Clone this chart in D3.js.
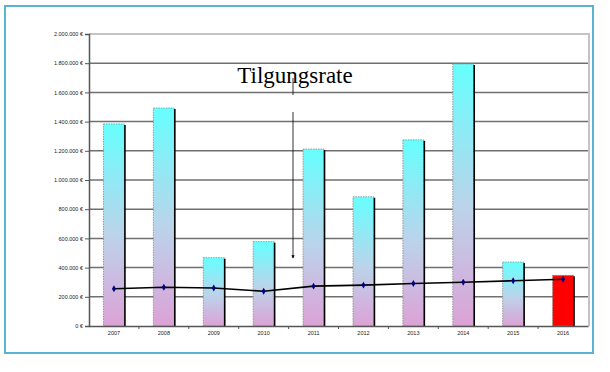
<!DOCTYPE html>
<html>
<head>
<meta charset="utf-8">
<script src="https://cdn.jsdelivr.net/npm/d3@7"></script>
<style>
  body { margin: 0; background: #fff; }
  svg { display: block; }
</style>
</head>
<body>
<div id="chart"></div>
<script>
  var years = ['2007', '2008', '2009', '2010', '2011', '2012', '2013', '2014', '2015', '2016'];
  var amounts = [1384000, 1493000, 468000, 578000, 1212000, 885000, 1275000, 1795000, 438000, 347000];
  var rates = [255000, 265000, 260000, 238000, 273000, 280000, 291000, 300000, 310000, 320000];
  var yTicks = [0, 200000, 400000, 600000, 800000, 1000000, 1200000, 1400000, 1600000, 1800000, 2000000];
  var title = 'Tilgungsrate';

  var width = 610, height = 372;

  var svg = d3.select('#chart').append('svg')
      .attr('width', width)
      .attr('height', height);

  // outer frame
  svg.append('rect')
      .attr('x', 5).attr('y', 6)
      .attr('width', 588).attr('height', 347)
      .attr('fill', '#fff')
      .attr('stroke', '#5ab4d0')
      .attr('stroke-width', 2);

  var x = d3.scaleBand()
      .domain(years)
      .range([89, 588])
      .paddingInner(0.58)
      .paddingOuter(0.29);

  var y = d3.scaleLinear()
      .domain([0, 2000000])
      .range([326, 34]);

  var fmt = (v) => d3.format(',')(v).replace(/,/g, '.') + ' €';

  var defs = svg.append('defs');
  var grad = defs.append('linearGradient')
      .attr('id', 'barfill')
      .attr('x1', 0).attr('y1', 0).attr('x2', 0).attr('y2', 1);
  grad.append('stop').attr('offset', '0%').attr('stop-color', '#66ffff');
  grad.append('stop').attr('offset', '55%').attr('stop-color', '#bcd3ea');
  grad.append('stop').attr('offset', '100%').attr('stop-color', '#dca2d6');

  // plot area border (top / right)
  svg.append('path')
      .attr('d', `M89,${ y(2000000) } H589 V326`)
      .attr('fill', 'none')
      .attr('stroke', '#c4c4c4')
      .attr('stroke-width', 2);

  // grid lines
  svg.append('g')
      .selectAll('line')
      .data(yTicks.filter((t) => t > 0 && t < 2000000))
      .enter().append('line')
      .attr('x1', 89).attr('x2', 588)
      .attr('y1', (d) => y(d)).attr('y2', (d) => y(d))
      .attr('stroke', '#707070')
      .attr('stroke-width', 1.5);

  // y axis
  var yAxis = svg.append('g')
      .attr('transform', 'translate(89,0)')
      .call(d3.axisLeft(y).tickValues(yTicks).tickFormat(fmt).tickSize(4).tickPadding(2));
  yAxis.select('.domain').attr('stroke', '#555').attr('stroke-width', 1.5);
  yAxis.selectAll('.tick line').attr('stroke', '#555');
  yAxis.selectAll('text')
      .attr('font-family', 'Liberation Sans, Arial, sans-serif')
      .attr('font-size', 5.5)
      .attr('fill', '#222');

  // bars
  var bars = svg.append('g');

  bars.selectAll('rect.bar')
      .data(amounts)
      .enter().append('rect')
      .attr('class', 'bar')
      .attr('x', (d, i) => x(years[i]))
      .attr('y', (d) => y(d))
      .attr('width', x.bandwidth())
      .attr('height', (d) => y(0) - y(d))
      .attr('fill', (d, i) => i === years.length - 1 ? '#ff0000' : 'url(#barfill)')
      .attr('stroke', '#888')
      .attr('stroke-width', 0.8)
      .attr('stroke-dasharray', '1.5,1');

  // right shadow edge
  bars.selectAll('line.edge')
      .data(amounts)
      .enter().append('line')
      .attr('class', 'edge')
      .attr('x1', (d, i) => x(years[i]) + x.bandwidth() + 0.5)
      .attr('x2', (d, i) => x(years[i]) + x.bandwidth() + 0.5)
      .attr('y1', (d) => y(d) + 1)
      .attr('y2', y(0))
      .attr('stroke', '#000')
      .attr('stroke-width', 1.6);

  // x axis
  var xAxis = svg.append('g')
      .attr('transform', `translate(0,${ y(0) })`)
      .call(d3.axisBottom(x).tickSize(0).tickPadding(5));
  xAxis.select('.domain').attr('stroke', '#555').attr('stroke-width', 1.5);
  xAxis.selectAll('text')
      .attr('font-family', 'Liberation Sans, Arial, sans-serif')
      .attr('font-size', 5.5)
      .attr('fill', '#222');

  xAxis.selectAll('line.sep')
      .data(years.slice(1))
      .enter().append('line')
      .attr('class', 'sep')
      .attr('x1', (d) => x(d) - x.step() * x.paddingInner() / 2)
      .attr('x2', (d) => x(d) - x.step() * x.paddingInner() / 2)
      .attr('y1', 0).attr('y2', 3)
      .attr('stroke', '#555');

  // rate line
  var line = d3.line()
      .x((d, i) => x(years[i]) + x.bandwidth() / 2)
      .y((d) => y(d));

  svg.append('path')
      .datum(rates)
      .attr('d', line)
      .attr('fill', 'none')
      .attr('stroke', '#000')
      .attr('stroke-width', 1.6);

  svg.append('g')
      .selectAll('path')
      .data(rates)
      .enter().append('path')
      .attr('d', d3.symbol().type(d3.symbolDiamond).size(14))
      .attr('transform', (d, i) => `translate(${ x(years[i]) + x.bandwidth() / 2 },${ y(d) })`)
      .attr('fill', '#000080');

  // title with arrow
  svg.append('text')
      .attr('x', 295)
      .attr('y', 83)
      .attr('text-anchor', 'middle')
      .attr('font-family', 'Liberation Serif, Times New Roman, serif')
      .attr('font-size', 23)
      .attr('fill', '#000')
      .text(title);

  defs.append('marker')
      .attr('id', 'arrow')
      .attr('viewBox', '0 0 6 6')
      .attr('refX', 5).attr('refY', 3)
      .attr('markerWidth', 4).attr('markerHeight', 4)
      .attr('orient', 'auto')
      .append('path')
      .attr('d', 'M0,0 L6,3 L0,6 Z')
      .attr('fill', '#000');

  svg.append('line')
      .attr('x1', 293).attr('x2', 293)
      .attr('y1', 78).attr('y2', 95)
      .attr('stroke', '#000').attr('stroke-width', 0.8);

  svg.append('line')
      .attr('x1', 293).attr('x2', 293)
      .attr('y1', 112).attr('y2', 258)
      .attr('stroke', '#000').attr('stroke-width', 0.8)
      .attr('marker-end', 'url(#arrow)');
</script>
</body>
</html>
